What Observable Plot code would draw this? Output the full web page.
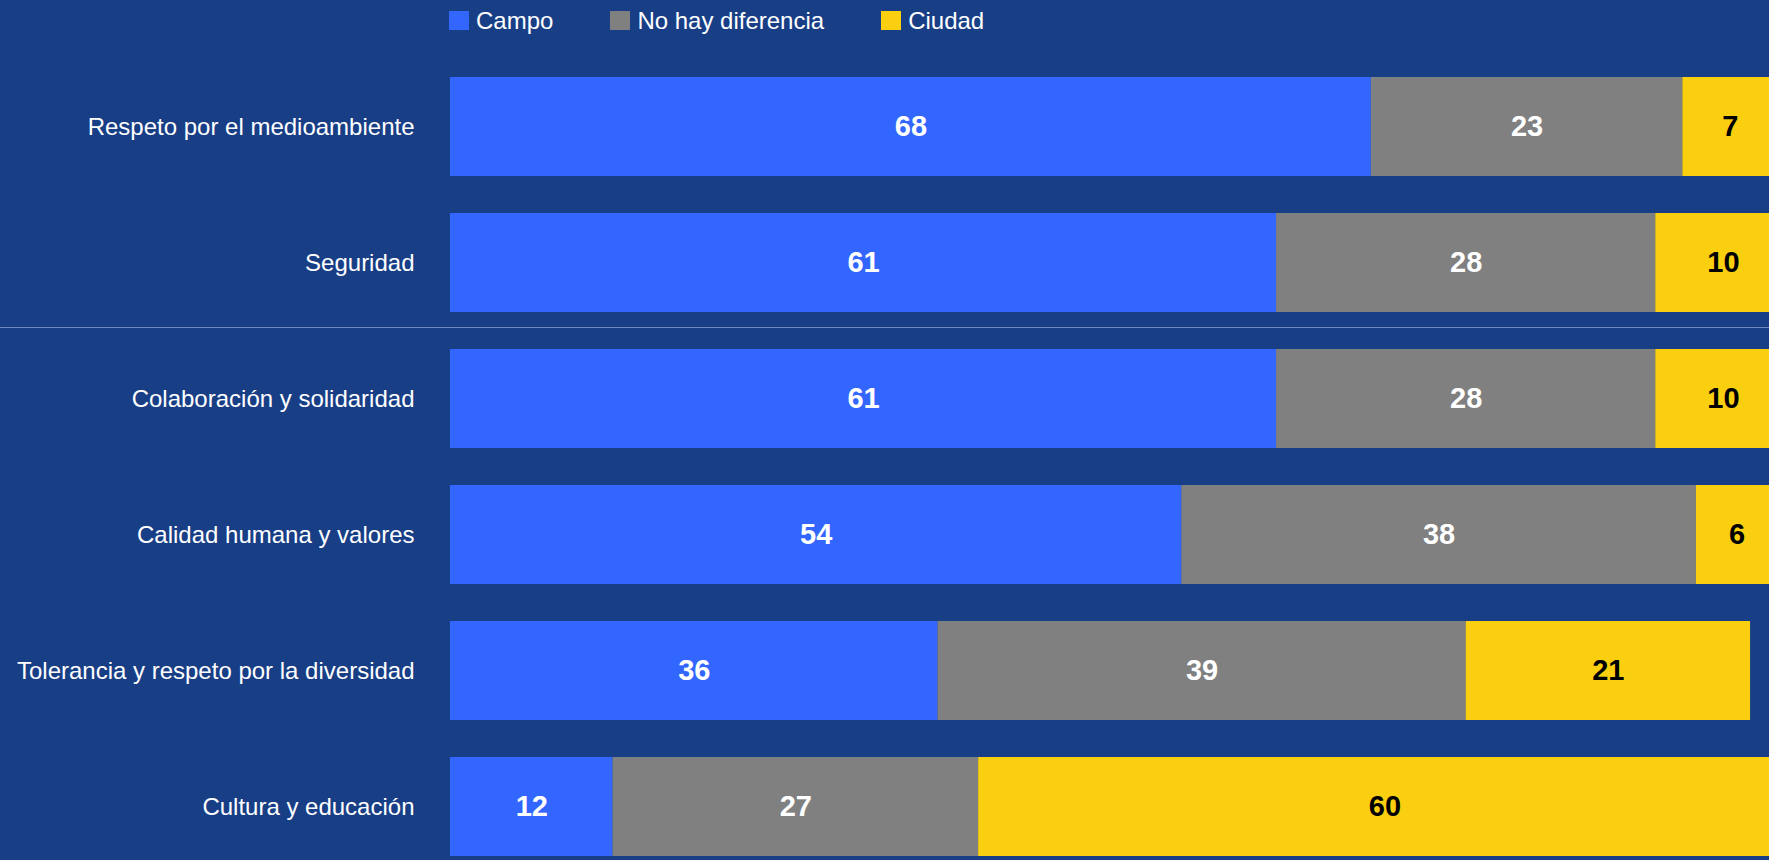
<!DOCTYPE html>
<html><head><meta charset="utf-8">
<script src="https://cdn.jsdelivr.net/npm/d3@7"></script>
<script src="https://cdn.jsdelivr.net/npm/@observablehq/plot@0.6"></script>
<style>
html,body{margin:0;padding:0;background:#183e86;overflow:hidden;}
body{width:1769px;height:860px;font-family:"Liberation Sans",Arial,sans-serif;}
#legend{position:relative;height:45px;color:#fff;font-size:24px;line-height:24px;padding-left:449px;box-sizing:border-box;padding-top:8.5px;display:flex;}
.item{display:flex;align-items:center;height:24px;margin-right:57px;}
.sw{width:20px;height:19px;margin-right:7px;}
#chart svg{display:block;}
</style></head><body>
<div id="legend"></div><div id="chart"></div>
<script>
const categories = [
  "Respeto por el medioambiente",
  "Seguridad",
  "Colaboración y solidaridad",
  "Calidad humana y valores",
  "Tolerancia y respeto por la diversidad",
  "Cultura y educación"
];
const series = ["Campo", "No hay diferencia", "Ciudad"];
const campo  = [68, 61, 61, 54, 36, 12];
const noDiff = [23, 28, 28, 38, 39, 27];
const ciudad = [7, 10, 10, 6, 21, 60];
const colors = ["#3366ff", "#808080", "#facf0f"];

// legend
const legend = document.getElementById("legend");
series.forEach((s, i) => {
  const it = document.createElement("div"); it.className = "item";
  const sw = document.createElement("div"); sw.className = "sw"; sw.style.background = colors[i];
  const tx = document.createElement("span"); tx.textContent = s;
  it.appendChild(sw); it.appendChild(tx); legend.appendChild(it);
});

const rows = [];
categories.forEach((c, i) => {
  [campo, noDiff, ciudad].forEach((arr, j) => rows.push({category: c, series: series[j], value: arr[i]}));
});
const stack = {x: "value", y: "category", z: "series", order: series};

const separator = (index, scales, values, dimensions) => {
  const y = scales.y;
  const bw = typeof y.bandwidth === "function" ? y.bandwidth() : y.bandwidth;
  const yPrev = y(categories[1]);
  const yNext = y(categories[2]);
  const yy = (yPrev + bw + yNext) / 2 - 3;
  const line = document.createElementNS("http://www.w3.org/2000/svg", "line");
  line.setAttribute("x1", 0);
  line.setAttribute("x2", dimensions.width);
  line.setAttribute("y1", yy);
  line.setAttribute("y2", yy);
  line.setAttribute("stroke", "#6f88bd");
  line.setAttribute("stroke-width", 1);
  return line;
};

const chart = Plot.plot({
  width: 1769,
  height: 815,
  marginLeft: 450,
  marginRight: 0,
  marginTop: 29,
  marginBottom: 1,
  style: {background: "transparent", fontFamily: "'Liberation Sans', Arial, sans-serif", color: "#ffffff"},
  x: {domain: [0, 97.4], axis: null},
  y: {domain: categories, paddingInner: 0.27, paddingOuter: 0, axis: null},
  color: {domain: series, range: colors},
  marks: [
    Plot.barX(rows, Plot.stackX({...stack, fill: "series", clip: true})),
    Plot.textX(rows, Plot.stackX({...stack, text: d => d.series !== "Ciudad" ? String(d.value) : null,
      fill: "#ffffff", fontSize: 29, fontWeight: "bold"})),
    Plot.textX(rows, Plot.stackX({...stack, text: d => d.series === "Ciudad" ? String(d.value) : null,
      fill: "#000000", fontSize: 29, fontWeight: "bold"})),
    Plot.axisY({tickSize: 0, tickPadding: 36, fontSize: 24, label: null, color: "#ffffff"}),
    separator
  ]
});
document.getElementById("chart").appendChild(chart);
</script>
</body></html>
